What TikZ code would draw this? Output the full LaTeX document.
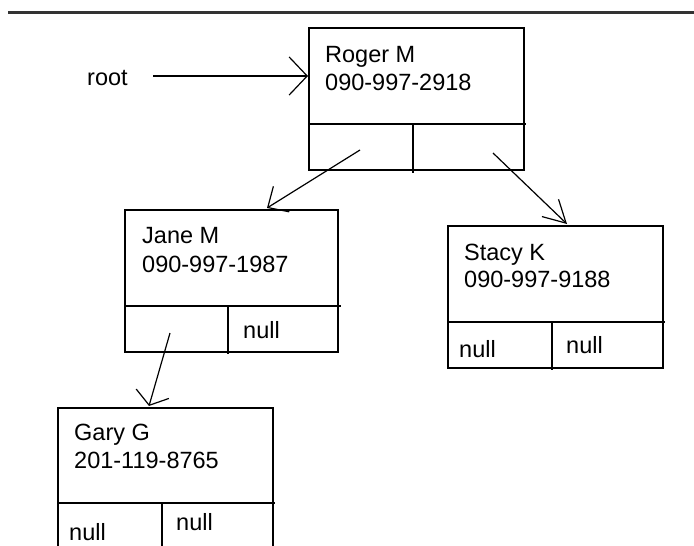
\documentclass[tikz,border=0pt]{standalone}
\usepackage{fontspec}
\setmainfont{Liberation Sans}
\usetikzlibrary{arrows.meta}
\begin{document}
\begin{tikzpicture}[x=1pt,y=-1pt,
  box/.style={draw, line width=1.6pt, rectangle, anchor=north west, inner sep=0pt, minimum width=215pt, minimum height=142pt},
  part/.style={line width=1.6pt},
  lbl/.style={anchor=base west, inner sep=0pt, font=\fontsize{23.5}{28}\selectfont},
  arr/.style={line width=1.2pt, -{Straight Barb[length=16pt,width=30pt,line width=1.2pt]}}]
\clip (0,0) rectangle (694,546);
\fill[white] (0,0) rectangle (694,546);
% top rule
\draw[line width=3pt, black!80] (8,12) -- (694,12);
% boxes
\node[box] (roger) at (308,27) {};
\node[box, minimum width=213pt] (jane) at (124,209) {};
\node[box] (stacy) at (447,225) {};
\node[box] (gary) at (57,407) {};
% compartments
\draw[part] (308,124) -- (526,124) (413,124) -- (413,173);
\draw[part] (124,306) -- (341,306) (228,306) -- (228,354);
\draw[part] (447,322) -- (665,322) (552,322) -- (552,370);
\draw[part] (57,503) -- (275,503) (162,503) -- (162,550);
% texts
\node[lbl] (rootlbl) at (87,85) {root};
\node[lbl] (rname) at (325,62) {Roger M};
\node[lbl] (rnum) at (325,90) {090-997-2918};
\node[lbl] (jname) at (142,243) {Jane M};
\node[lbl] (jnum) at (142,272) {090-997-1987};
\node[lbl] (jnull) at (243,338) {null};
\node[lbl] (sname) at (464,260) {Stacy K};
\node[lbl] (snum) at (464,287) {090-997-9188};
\node[lbl] (snulll) at (459,357) {null};
\node[lbl] (snullr) at (566,353) {null};
\node[lbl] (gname) at (74,440) {Gary G};
\node[lbl] (gnum) at (74,468) {201-119-8765};
\node[lbl] (gnulll) at (69,540) {null};
\node[lbl] (gnullr) at (176,530) {null};
% connector end points
\coordinate (rootstart) at (153,76);
\coordinate (rogerin) at (308,76);
\coordinate (rleft) at (360,150);
\coordinate (janein) at (267,208);
\coordinate (rright) at (493,153);
\coordinate (stacyin) at (567,224);
\coordinate (jleft) at (170,333);
\coordinate (garyin) at (149,406);
% connectors
\draw[arr, -{Straight Barb[length=18pt,width=38pt,line width=1.2pt]}] (rootstart) -- (rogerin);
\draw[arr] (rleft) -- (janein);
\draw[arr, -{Straight Barb[length=22pt,width=24pt,line width=1.2pt]}] (rright) -- (stacyin);
\draw[arr, -{Straight Barb[length=12pt,width=34pt,line width=1.2pt]}] (jleft) -- (garyin);
\end{tikzpicture}
\end{document}
